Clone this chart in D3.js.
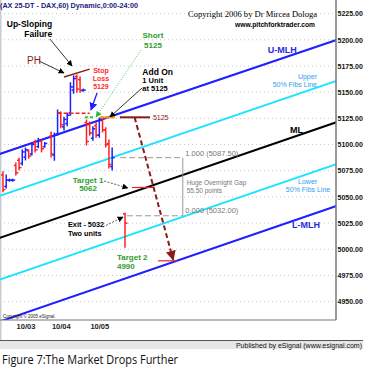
<!DOCTYPE html>
<html>
<head>
<meta charset="utf-8">
<script src="https://cdn.jsdelivr.net/npm/d3@7"></script>
<style>
body { margin: 0; background: #fff; }
svg { display: block; font-family: "Liberation Sans", Arial, sans-serif; }
</style>
</head>
<body>
<svg id="chart" width="365" height="370"></svg>
<script>
// hourly bars: [slot, open, high, low, close]
var bars = [
  [0, 5071, 5074, 5055, 5057], [1, 5060, 5071, 5058.5, 5066], [2, 5066, 5067, 5065, 5066],
  [3, 5066, 5067, 5065, 5066], [4, 5080, 5082.5, 5071, 5073], [5, 5085, 5087, 5076, 5078],
  [6, 5082, 5095, 5080.5, 5093], [7, 5088, 5096.7, 5085.3, 5095], [8, 5094, 5095, 5087, 5089],
  [9, 5091, 5101.5, 5090, 5100], [10, 5102, 5104, 5093, 5095], [11, 5098, 5106, 5097, 5104],
  [12, 5103, 5104, 5093, 5096], [13, 5098, 5102, 5097.5, 5101], [15, 5108, 5112, 5088, 5091],
  [16, 5090, 5111, 5085, 5109], [17, 5110, 5133, 5109, 5130], [18, 5130, 5131, 5116, 5119],
  [19, 5117, 5126, 5114, 5124], [20, 5120, 5130, 5118, 5128], [21, 5130, 5159, 5128, 5155],
  [22, 5152, 5165.5, 5149, 5163], [23, 5165, 5166.5, 5150, 5153], [24, 5162, 5164.5, 5150, 5152],
  [25, 5151.5, 5153, 5151, 5152], [26, 5121, 5123.4, 5099.6, 5103], [27, 5119, 5121.5, 5109, 5111],
  [28, 5106, 5117, 5104, 5115], [29, 5118, 5120.6, 5107, 5109], [30, 5109, 5125.4, 5107, 5123],
  [31, 5125, 5126.3, 5112, 5114], [32, 5114, 5116, 5097.7, 5100], [33, 5101, 5104.3, 5077.6, 5081],
  [34, 5079, 5096.7, 5075.7, 5087.5], [38, 5034, 5034.5, 5002, 5025]
];

var priceTicks = [4950, 4975, 5000, 5025, 5050, 5075, 5100, 5125, 5150, 5175, 5200, 5225];
var days = ["10/03", "10/04", "10/05"];
var daySlots = [7, 18, 30];

// pitchfork lines, price at slot -1 and slot 104
var forkKinds = ["mlh", "fib", "ml", "fib", "mlh"];
var forkStart = [5091, 5051, 5011, 4971, 4931];
var forkEnd = [5200, 5161, 5121.5, 5081.5, 5041.5];
var forkSlots = [-1, 104];

var gapTop = 5087.5, gapBottom = 5032;

// horizontal level marks: [fromSlot, toSlot, price, kind]
var levels = [
  [17, 27, 5130, "stop"],
  [25.5, 28.7, 5126, "short"],
  [30.2, 34.9, 5126, "addon"],
  [36.4, 45.8, 5126, "entry"],
  [40.2, 46.7, 5059, "target"],
  [48.3, 54.2, 4989, "target"],
  [19, 27, 5164.5, "failure"]   // up-sloping failure line, ends at 5172
];
var failureEnd = 5172;

// arrows: [fromSlot, fromPrice, toSlot, toPrice, kind]
var arrows = [
  [11.2, 5179.8, 19.0, 5168.3, "black"],
  [14.6, 5200.8, 21.5, 5175.0, "black"],
  [29.3, 5149.2, 27.4, 5133.0, "blue"],
  [43.0, 5190.3, 29.0, 5126.3, "green"],
  [43.3, 5154.0, 33.3, 5126.3, "black"],
  [31.5, 5065.2, 38.9, 5058.5, "dashed"],
  [31.1, 5021.3, 37.4, 5030.8, "dashed"],
  [41, 5126, 53, 4990, "brown"]
];

// notes: [text, slot, price, anchor, kind]
var notes = [
  ["Up-Sloping", 15.3, 5212.2, "end", "note"],
  ["Failure", 15.3, 5202.7, "end", "note"],
  ["PH", 7.5, 5176.9, "start", "ph"],
  ["Stop", 30.5, 5168.3, "middle", "stop"],
  ["Loss", 30.5, 5160.7, "middle", "stop"],
  ["5129", 30.5, 5153.0, "middle", "stop"],
  ["Short", 46.7, 5201.7, "middle", "green"],
  ["5125", 46.7, 5192.2, "middle", "green"],
  ["Add On", 43.4, 5166.4, "start", "note"],
  ["1 Unit", 43.4, 5158.8, "start", "small"],
  ["at 5125", 43.4, 5151.1, "start", "small"],
  ["5125", 46.7, 5123.9, "start", "level"],
  ["Target 1", 26.5, 5063.3, "middle", "green"],
  ["5062", 26.5, 5055.7, "middle", "green"],
  ["Exit - 5032", 20.25, 5021.3, "start", "exit"],
  ["Two units", 20.25, 5012.7, "start", "exit"],
  ["Target 2", 35.5, 4989.8, "start", "green"],
  ["4990", 35.5, 4981.2, "start", "green"],
  ["U-MLH", 82.5, 5187.4, "start", "fork"],
  ["Upper", 97.8, 5162.6, "end", "fib"],
  ["50% Fibs Line", 97.8, 5154.9, "end", "fib"],
  ["ML", 89.4, 5111.0, "start", "ml"],
  ["Lower", 91.9, 5062.3, "start", "fib"],
  ["50% Fibs Line", 88.1, 5054.7, "start", "fib"],
  ["L-MLH", 90.0, 5020.3, "start", "fork"],
  ["1.000 (5087.50)", 56.8, 5089.1, "start", "gap"],
  ["Huge Overnight Gap", 57.2, 5061.4, "start", "gapSmall"],
  ["55.50 points", 57.2, 5053.8, "start", "gapSmall"],
  ["0.000 (5032.00)", 56.8, 5034.7, "start", "gap"]
];

var noteStyle = {
  note: ["#000", "bold", 8.5],
  exit: ["#000", "bold", 7.3],
  small: ["#000", "bold", 7.5],
  ph: ["#8b1a1a", "normal", 10],
  stop: ["#ff2b2b", "bold", 7],
  green: ["#2e9e2e", "bold", 8],
  level: ["#8b1a1a", "normal", 7],
  fork: ["#2a2ae0", "bold", 9],
  fib: ["#2f9df0", "normal", 7],
  ml: ["#000", "bold", 9],
  gap: ["#777", "normal", 7.5],
  gapSmall: ["#777", "normal", 6.5]
};

var plotW = 336, plotH = 320;
var x = d3.scaleLinear().domain([0, 38]).range([3, 125]);
var y = d3.scaleLinear().domain([4932.5, 5238]).range([plotH, 0]);

var svg = d3.select("#chart");
var defs = svg.append("defs");
defs.append("clipPath").attr("id", "plotClip")
  .append("rect").attr("width", plotW).attr("height", plotH);

function marker(id, color, size) {
  defs.append("marker").attr("id", id)
    .attr("viewBox", "0 0 10 10").attr("refX", 9).attr("refY", 5)
    .attr("markerWidth", size).attr("markerHeight", size)
    .attr("markerUnits", "userSpaceOnUse").attr("orient", "auto")
    .append("path").attr("d", "M0,0L10,5L0,10z").attr("fill", color);
}
marker("mBlack", "#000", 6);
marker("mBlue", "#1f1fff", 8);
marker("mGreen", "#2eb82e", 6);
marker("mBrown", "#8b1a1a", 10);

var arrowStyle = {
  black: ["#000", 0.8, null, "mBlack"],
  blue: ["#1f1fff", 1.3, null, "mBlue"],
  green: ["#2eb82e", 0.8, "1,1.5", "mGreen"],
  dashed: ["#333", 0.8, "2,1.5", "mBlack"],
  brown: ["#8b1a1a", 2, "5,3", "mBrown"]
};

// frame and grid
svg.append("rect").attr("x", 0).attr("y", 0).attr("width", 1.5).attr("height", 341).attr("fill", "#c8ccd4");

var plot = svg.append("g").attr("clip-path", "url(#plotClip)");

plot.append("g").selectAll("line").data(priceTicks).join("line")
  .attr("x1", 0).attr("x2", plotW)
  .attr("y1", d => y(d)).attr("y2", d => y(d))
  .attr("stroke", "#c8c8c8").attr("stroke-dasharray", "1,3");

// pitchfork
var forkColor = { mlh: "#1f1fff", fib: "#1ee3ff", ml: "#000" };
plot.append("g").selectAll("line").data(forkKinds).join("line")
  .attr("x1", x(forkSlots[0])).attr("x2", x(forkSlots[1]))
  .attr("y1", (d, i) => y(forkStart[i])).attr("y2", (d, i) => y(forkEnd[i]))
  .attr("stroke", d => forkColor[d]).attr("stroke-width", 2);

// overnight gap box
var gap = plot.append("g").attr("stroke", "#999").attr("fill", "none");
gap.append("line").attr("x1", x(36.5)).attr("x2", x(56))
  .attr("y1", y(gapTop)).attr("y2", y(gapTop)).attr("stroke-dasharray", "6,3");
gap.append("line").attr("x1", x(38.6)).attr("x2", x(56))
  .attr("y1", y(gapBottom)).attr("y2", y(gapBottom)).attr("stroke-dasharray", "6,3");
gap.append("line").attr("x1", x(56)).attr("x2", x(56))
  .attr("y1", y(gapTop)).attr("y2", y(gapBottom));

// OHLC bars
var bar = plot.append("g").selectAll("g").data(bars).join("g")
  .attr("stroke", d => d[4] < d[1] ? "#ff2020" : "#1f1fff")
  .attr("stroke-width", 1.5);
bar.append("line").attr("x1", d => x(d[0])).attr("x2", d => x(d[0]))
  .attr("y1", d => y(d[2]) - 0.5).attr("y2", d => y(d[3]) + 0.5);
bar.append("line").attr("x1", d => x(d[0]) - 2).attr("x2", d => x(d[0]))
  .attr("y1", d => y(d[1])).attr("y2", d => y(d[1]));
bar.append("line").attr("x1", d => x(d[0])).attr("x2", d => x(d[0]) + 2.5)
  .attr("y1", d => y(d[4])).attr("y2", d => y(d[4]));

// levels
var levelStyle = {
  stop: ["#ee2222", 1.5, "4,2"],
  short: ["#22cc22", 2, "3,2"],
  addon: ["#ff9900", 2, null],
  entry: ["#8b1a1a", 2, null],
  target: ["#ee2222", 1.2, null],
  failure: ["#8b1a1a", 1.5, null]
};
plot.append("g").selectAll("line").data(levels).join("line")
  .attr("x1", d => x(d[0])).attr("x2", d => x(d[1]))
  .attr("y1", d => y(d[2])).attr("y2", d => y(d[3] === "failure" ? failureEnd : d[2]))
  .attr("stroke", d => levelStyle[d[3]][0])
  .attr("stroke-width", d => levelStyle[d[3]][1])
  .attr("stroke-dasharray", d => levelStyle[d[3]][2]);

// arrows
plot.append("g").selectAll("line").data(arrows).join("line")
  .attr("x1", d => x(d[0])).attr("y1", d => y(d[1]))
  .attr("x2", d => x(d[2])).attr("y2", d => y(d[3]))
  .attr("stroke", d => arrowStyle[d[4]][0])
  .attr("stroke-width", d => arrowStyle[d[4]][1])
  .attr("stroke-dasharray", d => arrowStyle[d[4]][2])
  .attr("marker-end", d => "url(#" + arrowStyle[d[4]][3] + ")");

// notes
svg.append("g").selectAll("text").data(notes).join("text")
  .attr("x", d => x(d[1])).attr("y", d => y(d[2]))
  .attr("text-anchor", d => d[3])
  .attr("fill", d => noteStyle[d[4]][0])
  .attr("font-weight", d => noteStyle[d[4]][1])
  .attr("font-size", d => noteStyle[d[4]][2])
  .text(d => d[0]);

// header and copyright
svg.append("text").attr("x", 0).attr("y", 7.5)
  .attr("fill", "#1a1a80").attr("font-weight", "bold").attr("font-size", 8)
  .attr("textLength", 138).attr("lengthAdjust", "spacingAndGlyphs")
  .text("(AX 25-DT - DAX,60) Dynamic,0:00-24:00");
svg.append("text").attr("x", 188).attr("y", 17)
  .attr("font-family", "Liberation Serif, serif").attr("font-size", 9)
  .attr("textLength", 129).attr("lengthAdjust", "spacingAndGlyphs")
  .text("Copyright 2006 by Dr Mircea Dologa");
svg.append("text").attr("x", 235).attr("y", 26.5)
  .attr("font-weight", "bold").attr("font-size", 7)
  .attr("textLength", 80).attr("lengthAdjust", "spacingAndGlyphs")
  .text("www.pitchforktrader.com");
svg.append("text").attr("x", 3).attr("y", 317.5)
  .attr("font-size", 4.5).attr("fill", "#222")
  .text("Copyright \u00a9 2005 eSignal.");

// axes
var yAxis = svg.append("g").attr("transform", "translate(" + plotW + ",0)")
  .call(d3.axisRight(y).tickValues(priceTicks).tickFormat(d3.format(".2f"))
    .tickSize(0).tickPadding(1.5));
yAxis.select(".domain").remove();
yAxis.selectAll("text").attr("font-size", 7).attr("font-weight", "bold").attr("fill", "#111")
  .attr("font-family", "Liberation Sans, Arial, sans-serif");

var xAxis = svg.append("g").attr("transform", "translate(0," + plotH + ")")
  .call(d3.axisBottom(x).tickValues(daySlots).tickFormat((d, i) => days[i])
    .tickSize(0).tickPadding(4));
xAxis.select(".domain").remove();
xAxis.selectAll("text").attr("font-size", 7.5).attr("font-weight", "bold").attr("fill", "#222")
  .attr("font-family", "Liberation Sans, Arial, sans-serif");

svg.append("line").attr("x1", plotW).attr("x2", plotW).attr("y1", 0).attr("y2", plotH)
  .attr("stroke", "#777").attr("stroke-width", 1.5);
svg.append("line").attr("x1", 0).attr("x2", plotW).attr("y1", plotH).attr("y2", plotH)
  .attr("stroke", "#777").attr("stroke-width", 1.2);

// footer
svg.append("rect").attr("x", 0).attr("y", 340.5).attr("width", 363).attr("height", 8.5)
  .attr("fill", "#e6e6e6");
svg.append("line").attr("x1", 0).attr("x2", 363).attr("y1", 340.5).attr("y2", 340.5)
  .attr("stroke", "#555");
svg.append("text").attr("x", 362).attr("y", 347.5).attr("text-anchor", "end")
  .attr("font-size", 7).attr("fill", "#111")
  .text("Published by eSignal (www.esignal.com)");

svg.append("text").attr("x", 2).attr("y", 364)
  .attr("font-family", "Open Sans, sans-serif").attr("font-size", 12.5).attr("fill", "#111")
  .attr("textLength", 176).attr("lengthAdjust", "spacingAndGlyphs")
  .text("Figure 7:The Market Drops Further");
</script>
</body>
</html>
